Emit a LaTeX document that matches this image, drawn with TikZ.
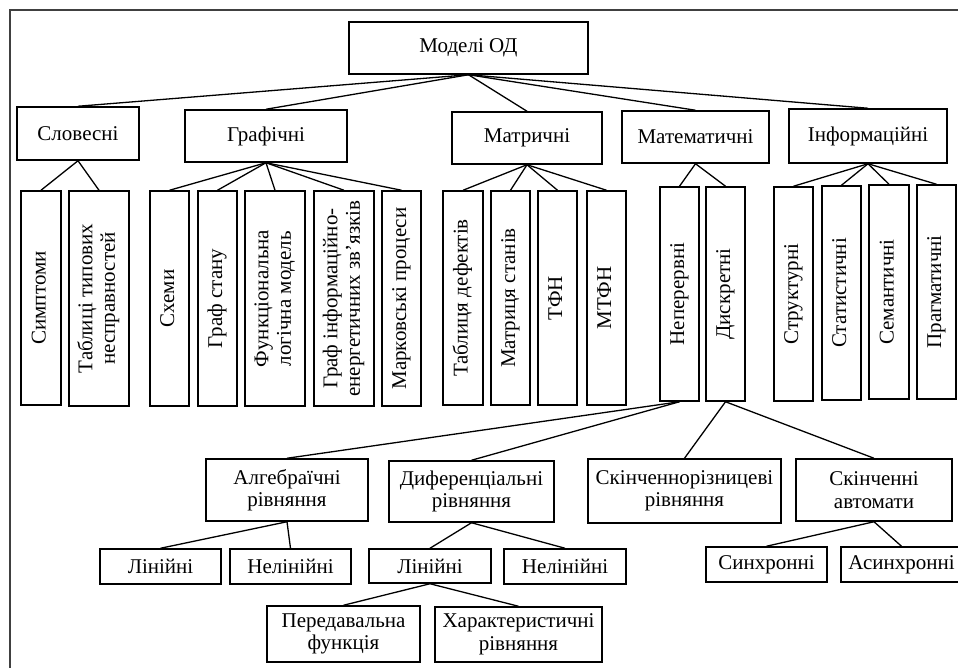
\documentclass[tikz,border=0pt]{standalone}
\usepackage{fontspec}
\setmainfont{Liberation Serif}
\usepackage{graphicx}
\newcommand{\vlab}[1]{\rotatebox{90}{\begin{tabular}{@{}c@{}}#1\end{tabular}}}

\begin{document}
\begin{tikzpicture}[x=1pt, y=-1pt, line width=1.3pt,
  every node/.style={draw, line width=1.5pt, inner sep=0pt, align=center, font=\fontsize{21}{22.5}\selectfont},
  sz/.style 2 args={minimum width=#1pt, minimum height=#2pt}]
  \path[use as bounding box, clip] (0,0) rectangle (958,668);
  \draw[line width=1.2pt, black!75] (10,10) rectangle (980,690);
  % top levels
  \node[sz={239}{52}] (root) at (468.5,48) {Моделі ОД};
  \node[sz={122}{53}] (slov) at (78,133.5) {Словесні};
  \node[sz={162}{52}] (graf) at (266,136) {Графічні};
  \node[sz={150}{52}] (matr) at (527,138) {Матричні};
  \node[sz={147}{52}] (mat) at (695.5,137) {Математичні};
  \node[sz={158}{54}] (inf) at (868,136) {Інформаційні};
  % vertical boxes
  \node[sz={40}{214}] (symp) at (41,298) {\vlab{Симптоми}};
  \node[sz={60}{215}] (tabl) at (99,298.5) {\vlab{Таблиці типових\\несправностей}};
  \node[sz={39}{215}] (schem) at (169.5,298.5) {\vlab{Схеми}};
  \node[sz={39}{215}] (gstan) at (217.5,298.5) {\vlab{Граф стану}};
  \node[sz={60}{215}] (func) at (275,298.5) {\vlab{Функціональна\\логічна модель}};
  \node[sz={60}{215}] (ginf) at (344,298.5) {\vlab{Граф інформаційно-\\енергетичних зв’язків}};
  \node[sz={39}{215}] (mark) at (401.5,298.5) {\vlab{Марковські процеси}};
  \node[sz={40}{214}] (tdef) at (463,298) {\vlab{Таблиця дефектів}};
  \node[sz={39}{214}] (mstan) at (510.5,298) {\vlab{Матриця станів}};
  \node[sz={39}{214}] (tfn) at (557.5,298) {\vlab{ТФН}};
  \node[sz={39}{214}] (mtfn) at (606.5,298) {\vlab{МТФН}};
  \node[sz={39}{214}] (nep) at (679.5,294) {\vlab{Неперервні}};
  \node[sz={39}{214}] (disk) at (725.5,294) {\vlab{Дискретні}};
  \node[sz={39}{214}] (strukt) at (793.5,294) {\vlab{Структурні}};
  \node[sz={39}{214}] (stat) at (841.5,293) {\vlab{Статистичні}};
  \node[sz={40}{214}] (sem) at (889,292) {\vlab{Семантичні}};
  \node[sz={39}{214}] (prag) at (936.5,292) {\vlab{Прагматичні}};
  % equations
  \node[sz={162}{62}] (alg) at (287,490) {Алгебраїчні\\рівняння};
  \node[sz={165}{61}] (dif) at (471.5,491.5) {Диференціальні\\рівняння};
  \node[sz={193}{64}] (skr) at (684.5,491) {Скінченнорізницеві\\рівняння};
  \node[sz={156}{62}] (ska) at (874,490) {Скінченні\\автомати};
  \node[sz={121}{35}] (alin) at (160.5,566.5) {Лінійні};
  \node[sz={121}{35}] (anel) at (290.5,566.5) {Нелінійні};
  \node[sz={122}{34}] (dlin) at (430,566) {Лінійні};
  \node[sz={122}{35}] (dnel) at (565,566.5) {Нелінійні};
  \node[sz={121}{35}] (sync) at (766.5,564.5) {Синхронні};
  \node[sz={121}{35}] (async) at (901.5,564.5) {Асинхронні};
  \node[sz={153}{56}] (pered) at (343.5,634) {Передавальна\\функція};
  \node[sz={167}{55}] (khar) at (518.5,634.5) {Характеристичні\\рівняння};
  % connectors
  \foreach \c in {slov,graf,matr,mat,inf} \draw (root.south) -- (\c.north);
  \foreach \c in {symp,tabl} \draw (slov.south) -- (\c.north);
  \foreach \c in {schem,gstan,func,ginf,mark} \draw (graf.south) -- (\c.north);
  \foreach \c in {tdef,mstan,tfn,mtfn} \draw (matr.south) -- (\c.north);
  \foreach \c in {nep,disk} \draw (mat.south) -- (\c.north);
  \foreach \c in {strukt,stat,sem,prag} \draw (inf.south) -- (\c.north);
  \foreach \c in {alg,dif} \draw (nep.south) -- (\c.north);
  \foreach \c in {skr,ska} \draw (disk.south) -- (\c.north);
  \foreach \c in {alin,anel} \draw (alg.south) -- (\c.north);
  \foreach \c in {dlin,dnel} \draw (dif.south) -- (\c.north);
  \foreach \c in {sync,async} \draw (ska.south) -- (\c.north);
  \foreach \c in {pered,khar} \draw (dlin.south) -- (\c.north);
\end{tikzpicture}
\end{document}
